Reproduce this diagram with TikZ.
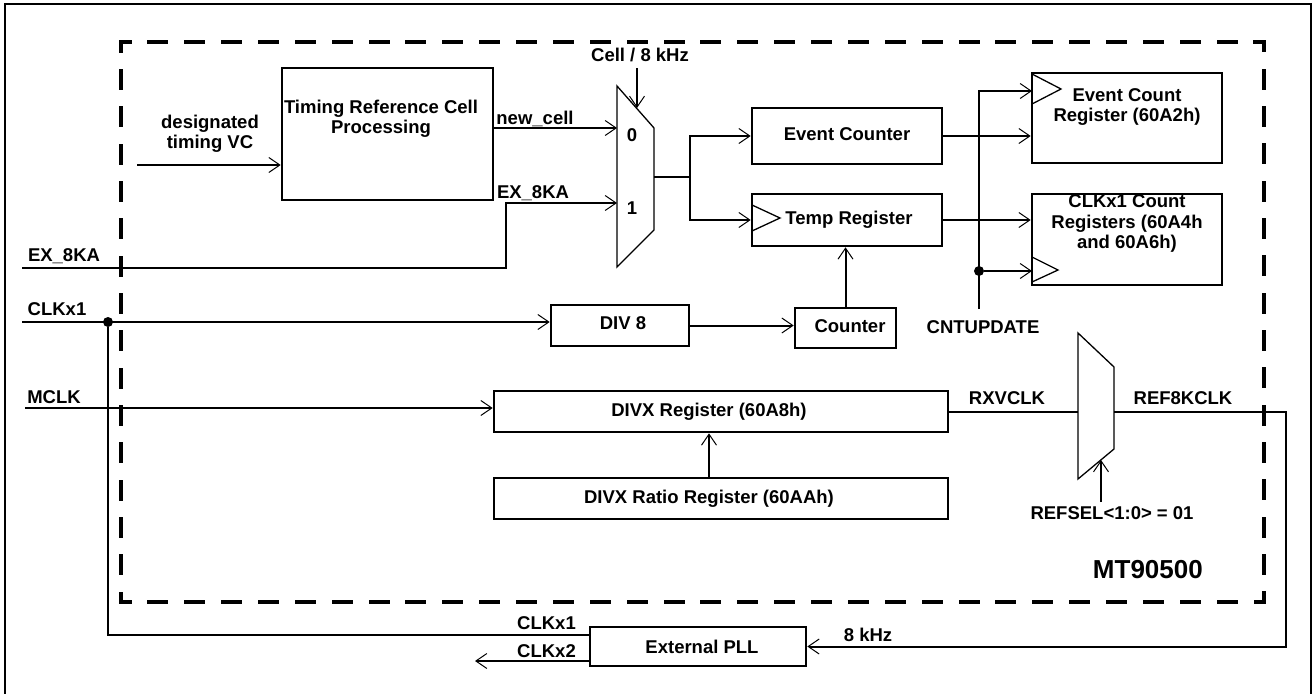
\documentclass[tikz,border=0pt]{standalone}
\usepackage{fontspec}
\setmainfont{Liberation Sans}
\usetikzlibrary{arrows.meta}
\tikzset{
  box/.style={draw, line width=2.6pt, inner sep=0pt},
  wire/.style={line width=2pt},
  arr/.style={wire, -{Straight Barb[length=11pt,width=15pt,line width=1pt 0]}},
  thinl/.style={line width=1.3pt},
  muxs/.style={line width=1.3pt, line join=miter},
  dot/.style={circle, fill, inner sep=0pt, minimum size=10pt},
  chiph/.style={line width=4pt, line cap=rect, dash pattern=on 17pt off 19.87pt, dash phase=8.5pt},
  chipv/.style={line width=4pt, line cap=rect, dash pattern=on 17pt off 20.33pt, dash phase=8.5pt},
  lbl/.style={font=\bfseries\fontsize{18.5}{20.5}\selectfont, inner sep=0pt, text height=13.3pt, text depth=0pt, align=center},
}
\begin{document}
\begin{tikzpicture}[x=1pt,y=-1pt]
\useasboundingbox (0,0) rectangle (1313,693);
% outer frame
\draw[line width=2.6pt] (5,697) -- (5,4) -- (1311,4) -- (1311,697);
% chip boundary
\coordinate (ctl) at (121,42);
\coordinate (ctr) at (1264,42);
\coordinate (cbr) at (1264,602);
\coordinate (cbl) at (121,602);
\draw[chiph] (ctl) -- (ctr);
\draw[chipv] (ctr) -- (cbr);
\draw[chiph] (cbr) -- (cbl);
\draw[chipv] (cbl) -- (ctl);

% boxes
\node[box, minimum width=211pt, minimum height=132pt] (trcp) at (387.5,134) {};
\node[box, minimum width=190pt, minimum height=56pt] (evc) at (847,136) {};
\node[box, minimum width=190pt, minimum height=52pt] (tmp) at (847,220) {};
\node[box, minimum width=190pt, minimum height=90pt] (ecr) at (1127,118) {};
\node[box, minimum width=190pt, minimum height=91pt] (ccr) at (1127,239.5) {};
\node[box, minimum width=138pt, minimum height=41pt] (div8) at (620,325.5) {};
\node[box, minimum width=101pt, minimum height=40pt] (cnt) at (845.5,328) {};
\node[box, minimum width=454pt, minimum height=41pt] (divx) at (721,411.5) {};
\node[box, minimum width=454pt, minimum height=41pt] (ratio) at (721,498.5) {};
\node[box, minimum width=216pt, minimum height=39pt] (pll) at (698,646.5) {};

% box texts
\node[lbl] (trcp-t) at (381,127) {Timing Reference Cell\\Processing};
\node[lbl] (evc-t) at (847,134) {Event Counter};
\node[lbl] (tmp-t) at (849,218) {Temp Register};
\node[lbl] (ecr-t) at (1127,115) {Event Count\\Register (60A2h)};
\node[lbl] (ccr-t) at (1127,242) {CLKx1 Count\\Registers (60A4h\\and 60A6h)};
\node[lbl] (div8-t) at (623,323) {DIV 8};
\node[lbl] (cnt-t) at (850,326) {Counter};
\node[lbl] (divx-t) at (709,410) {DIVX Register (60A8h)};
\node[lbl] (ratio-t) at (709,497) {DIVX Ratio Register (60AAh)};
\node[lbl] (pll-t) at (702,647) {External PLL};

% clock triangles
\draw[thinl] (752,205) -- (780,218) -- (752,231);
\draw[thinl] (1032,74) -- (1061,89) -- (1032,104);
\draw[thinl] (1032,257) -- (1058,270) -- (1032,282);

% multiplexers
\draw[muxs] (617,86) -- (654,128) -- (654,230) -- (617,267) -- cycle;
\coordinate (m1i0) at (617,128);
\coordinate (m1i1) at (617,203);
\coordinate (m1o) at (654,177);
\coordinate (m1s) at (637,108);
\draw[muxs] (1078,333) -- (1114,367) -- (1114,449) -- (1078,479) -- cycle;
\coordinate (m2i) at (1078,412);
\coordinate (m2o) at (1114,412);
\coordinate (m2s) at (1101,460);

% connectors
\coordinate (dtv) at (137,165);
\draw[arr] (dtv) -- (dtv -| trcp.west);
\draw[arr] (trcp.east |- m1i0) -- (m1i0);
\coordinate (ex8) at (22,268);
\coordinate (exb) at (506,268);
\draw[arr] (ex8) -- (exb) -- (exb |- m1i1) -- (m1i1);
\coordinate (cs) at (637,68);
\draw[arr] (cs) -- (m1s);
\coordinate (br1) at (690,177);
\draw[wire] (m1o) -- (br1);
\draw[arr] (br1) |- (evc.west);
\draw[arr] (br1) |- (tmp.west);
\draw[arr] (evc.east) -- (evc.east -| ecr.west);
\draw[arr] (tmp.east) -- (tmp.east -| ccr.west);

\coordinate (cnu) at (979,309);
\coordinate (ecrclk) at (1032,91);
\coordinate (ccrclk) at (1032,271);
\draw[arr] (cnu) |- (ecrclk);
\node[dot] (j2) at (979,271) {};
\draw[arr] (j2) -- (ccrclk);
\draw[arr] (cnt.north) -- (cnt.north |- tmp.south);

\coordinate (clkin) at (22,322);
\draw[arr] (clkin) -- (clkin -| div8.west);
\node[dot] (j1) at (108,322) {};
\coordinate (pllc1) at (590,635);
\draw[wire] (j1) |- (pllc1);
\draw[arr] (div8.east) -- (div8.east -| cnt.west);

\coordinate (mclk) at (25,408);
\draw[arr] (mclk) -- (mclk -| divx.west);
\draw[arr] (ratio.north -| divx-t) -- (divx.south -| divx-t);
\draw[wire] (divx.east |- m2i) -- (m2i);
\coordinate (rc) at (1286,412);
\draw[arr] (m2o) -- (rc) |- (pll.east);
\coordinate (rs) at (1101,502);
\draw[arr] (rs) -- (m2s);
\coordinate (c2) at (475,661);
\draw[arr] (pll.west |- c2) -- (c2);

% labels
\node[lbl] (l-dtv) at (210,142) {designated\\timing VC};
\node[lbl] (l-nc) at (535,118) {new\_cell};
\node[lbl] (l-ex) at (533,192) {EX\_8KA};
\node[lbl] (l-cs) at (640,55) {Cell / 8 kHz};
\node[lbl] (l-0) at (632,135) {0};
\node[lbl] (l-1) at (632,208) {1};
\node[lbl] (l-ex2) at (64,255) {EX\_8KA};
\node[lbl] (l-clk) at (57,309) {CLKx1};
\node[lbl] (l-mclk) at (54,397) {MCLK};
\node[lbl] (l-cnu) at (983,327) {CNTUPDATE};
\node[lbl] (l-rxv) at (1007,398) {RXVCLK};
\node[lbl] (l-ref) at (1183,398) {REF8KCLK};
\node[lbl] (l-rs) at (1112,513) {REFSEL<1:0> = 01};
\node[font=\bfseries\fontsize{26}{28}\selectfont, inner sep=0pt, anchor=base east] (l-mt) at (1203,578) {MT90500};
\node[lbl, anchor=east] (l-c1) at (576,623) {CLKx1};
\node[lbl, anchor=east] (l-c2) at (576,651) {CLKx2};
\node[lbl] (l-8k) at (868,635) {8 kHz};
\end{tikzpicture}
\end{document}
